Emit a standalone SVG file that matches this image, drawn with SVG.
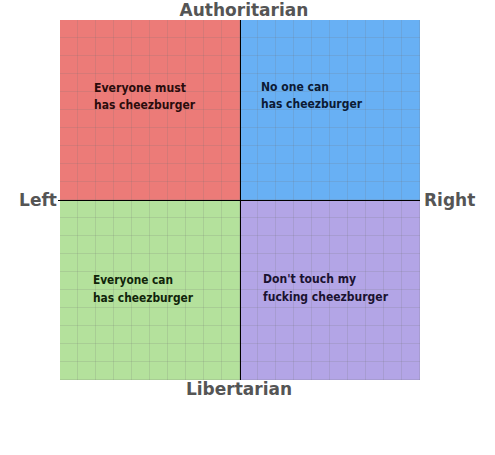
<svg xmlns="http://www.w3.org/2000/svg" width="495" height="455" viewBox="0 0 495 455">
<defs>
<pattern id="grid" x="60" y="20" width="18" height="18" patternUnits="userSpaceOnUse">
<path d="M18 0V18M0 18H18" fill="none" stroke="#6e6e6e" stroke-opacity="0.35" stroke-width="1"/>
</pattern>
<style>
.ax{font-family:"DejaVu Sans",Verdana,sans-serif;font-weight:bold;font-size:17px;fill:#555555}
.q{font-family:"DejaVu Sans",Verdana,sans-serif;font-size:11.5px;font-weight:bold}
</style>
</defs>
<rect width="495" height="455" fill="#ffffff"/>
<g id="quadrant-auth-left"><rect x="60" y="20" width="180" height="180" fill="#ec7b78"/></g>
<g id="quadrant-auth-right"><rect x="240" y="20" width="180" height="180" fill="#68b0f4"/></g>
<g id="quadrant-lib-left"><rect x="60" y="200" width="180" height="180" fill="#b4e19c"/></g>
<g id="quadrant-lib-right"><rect x="240" y="200" width="180" height="180" fill="#b3a5e6"/></g>
<rect x="60" y="20" width="360" height="360" fill="url(#grid)"/>
<g id="connectors" stroke="#000000" stroke-width="1">
<line x1="240.5" y1="20" x2="240.5" y2="380"/>
<line x1="58" y1="200.5" x2="420" y2="200.5"/>
</g>
<g id="labels">
<text class="ax" x="244" y="16" text-anchor="middle">Authoritarian</text>
<text class="ax" x="239" y="395" text-anchor="middle">Libertarian</text>
<text class="ax" x="57" y="206" text-anchor="end">Left</text>
<text class="ax" x="424" y="206">Right</text>
</g>
<g id="text-auth-left" class="q" fill="#2a0c0c">
<text x="94" y="92" textLength="92" lengthAdjust="spacingAndGlyphs">Everyone must</text>
<text x="94" y="109" textLength="101" lengthAdjust="spacingAndGlyphs">has cheezburger</text>
</g>
<g id="text-auth-right" class="q" fill="#0c1a33">
<text x="261" y="91" textLength="68" lengthAdjust="spacingAndGlyphs">No one can</text>
<text x="261" y="108" textLength="101" lengthAdjust="spacingAndGlyphs">has cheezburger</text>
</g>
<g id="text-lib-left" class="q" fill="#10240a">
<text x="93" y="284" textLength="80" lengthAdjust="spacingAndGlyphs">Everyone can</text>
<text x="93" y="302" textLength="100" lengthAdjust="spacingAndGlyphs">has cheezburger</text>
</g>
<g id="text-lib-right" class="q" fill="#1a1230">
<text x="263" y="283" textLength="93" lengthAdjust="spacingAndGlyphs">Don't touch my</text>
<text x="263" y="301" textLength="125" lengthAdjust="spacingAndGlyphs">fucking cheezburger</text>
</g>
</svg>
